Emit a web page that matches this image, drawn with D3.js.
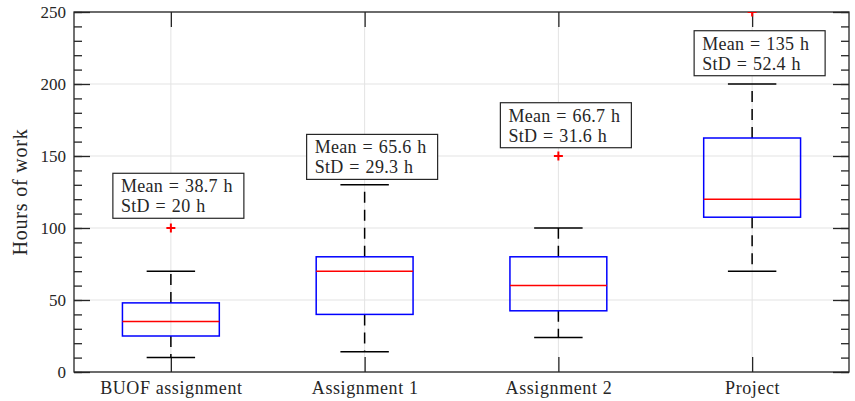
<!DOCTYPE html>
<html>
<head>
<meta charset="utf-8">
<script src="https://cdn.jsdelivr.net/npm/d3@7"></script>
<style>
  body { margin: 0; background: #fff; }
</style>
</head>
<body>
<div id="chart"></div>
<script>
// Data
var categories = ['BUOF assignment', 'Assignment 1', 'Assignment 2', 'Project']
var lowerWhisker = [10, 14, 24, 70]
var q1 = [25, 40, 42.5, 107.5]
var medians = [35, 70, 60, 120]
var q3 = [48, 80, 80, 162.5]
var upperWhisker = [70, 130, 100, 200]
var outliers = [[100], [], [150], [250]]
var means = [38.7, 65.6, 66.7, 135]
var stds = [20, 29.3, 31.6, 52.4]
// top of each text box, in hours
var noteTop = [138, 165, 187, 237]
var yTicks = [0, 50, 100, 150, 200, 250]

var serif = '"Liberation Serif", "Times New Roman", serif'
var ink = '#262626'

var width = 855
var height = 401
var margin = { top: 12, right: 6, bottom: 29, left: 74 }
var innerW = width - margin.left - margin.right
var innerH = height - margin.top - margin.bottom

var svg = d3
  .select('#chart')
  .append('svg')
  .attr('width', width)
  .attr('height', height)

var g = svg
  .append('g')
  .attr('transform', 'translate(' + margin.left + ',' + margin.top + ')')

var x = d3
  .scalePoint()
  .domain(categories)
  .range([0, innerW])
  .padding(0.5)

var y = d3
  .scaleLinear()
  .domain([0, 250])
  .range([innerH, 0])

var step = x.step()
var boxW = step * 0.5
var capW = step * 0.25

// grid
g.append('g')
  .selectAll('line')
  .data(yTicks)
  .enter()
  .append('line')
  .attr('x1', 0)
  .attr('x2', innerW)
  .attr('y1', function(d) { return y(d) })
  .attr('y2', function(d) { return y(d) })
  .style('stroke', '#e3e3e3')
  .style('stroke-width', 1)

g.append('g')
  .selectAll('line')
  .data(categories)
  .enter()
  .append('line')
  .attr('x1', function(d) { return x(d) })
  .attr('x2', function(d) { return x(d) })
  .attr('y1', 0)
  .attr('y2', innerH)
  .style('stroke', '#e3e3e3')
  .style('stroke-width', 1)

// axes (ticks pointing inward, mirrored on the far sides)
var minorTicks = d3.range(0, 251, 10)
function styleAxis(sel) {
  sel.select('.domain').remove()
  sel.selectAll('line').style('stroke', ink).style('stroke-width', 1.3)
  sel.selectAll('text')
    .style('font-family', serif)
    .style('font-size', '17px')
    .style('fill', ink)
}

g.append('g')
  .call(d3.axisLeft(y).tickValues(minorTicks).tickSize(-8).tickFormat(''))
  .call(styleAxis)
g.append('g')
  .call(d3.axisLeft(y).tickValues(yTicks).tickSize(-16).tickPadding(8))
  .call(styleAxis)
g.append('g')
  .attr('transform', 'translate(' + innerW + ',0)')
  .call(d3.axisRight(y).tickValues(minorTicks).tickSize(-8).tickFormat(''))
  .call(styleAxis)
g.append('g')
  .attr('transform', 'translate(' + innerW + ',0)')
  .call(d3.axisRight(y).tickValues(yTicks).tickSize(-16).tickFormat(''))
  .call(styleAxis)
g.append('g')
  .attr('transform', 'translate(0,' + innerH + ')')
  .call(d3.axisBottom(x).tickSize(-15).tickPadding(9))
  .call(styleAxis)
  .selectAll('text')
  .style('font-size', '18px')
  .style('letter-spacing', '0.6px')
g.append('g')
  .call(d3.axisTop(x).tickSize(-15).tickFormat(''))
  .call(styleAxis)

// plot frame
g.append('rect')
  .attr('width', innerW)
  .attr('height', innerH)
  .style('fill', 'none')
  .style('stroke', ink)
  .style('stroke-width', 1.3)

// y label
svg
  .append('text')
  .attr('transform', 'translate(27,' + (margin.top + innerH / 2) + ') rotate(-90)')
  .attr('text-anchor', 'middle')
  .style('font-family', serif)
  .style('fill', ink)
  .style('font-size', '20px')
  .style('letter-spacing', '0.8px')
  .text('Hours of work')

g.append('clipPath')
  .attr('id', 'plot-clip')
  .append('rect')
  .attr('width', innerW)
  .attr('height', innerH)

var boxes = g
  .append('g')
  .attr('clip-path', 'url(#plot-clip)')
  .selectAll('.box')
  .data(categories)
  .enter()
  .append('g')
  .attr('class', 'box')

// whiskers, dashed from the box outwards
boxes
  .append('line')
  .attr('x1', function(d) { return x(d) })
  .attr('x2', function(d) { return x(d) })
  .attr('y1', function(d, i) { return y(q3[i]) })
  .attr('y2', function(d, i) { return y(upperWhisker[i]) })
  .style('stroke', '#000')
  .style('stroke-width', 1.5)
  .style('stroke-dasharray', '11,7')
boxes
  .append('line')
  .attr('x1', function(d) { return x(d) })
  .attr('x2', function(d) { return x(d) })
  .attr('y1', function(d, i) { return y(q1[i]) })
  .attr('y2', function(d, i) { return y(lowerWhisker[i]) })
  .style('stroke', '#000')
  .style('stroke-width', 1.5)
  .style('stroke-dasharray', '11,7')

// caps
;[upperWhisker, lowerWhisker].forEach(function(arr) {
  boxes
    .append('line')
    .attr('x1', function(d) { return x(d) - capW / 2 })
    .attr('x2', function(d) { return x(d) + capW / 2 })
    .attr('y1', function(d, i) { return y(arr[i]) })
    .attr('y2', function(d, i) { return y(arr[i]) })
    .style('stroke', '#000')
    .style('stroke-width', 1.5)
})

// box
boxes
  .append('rect')
  .attr('x', function(d) { return x(d) - boxW / 2 })
  .attr('width', boxW)
  .attr('y', function(d, i) { return y(q3[i]) })
  .attr('height', function(d, i) { return y(q1[i]) - y(q3[i]) })
  .style('fill', 'none')
  .style('stroke', '#0000ff')
  .style('stroke-width', 1.5)

// median
boxes
  .append('line')
  .attr('x1', function(d) { return x(d) - boxW / 2 })
  .attr('x2', function(d) { return x(d) + boxW / 2 })
  .attr('y1', function(d, i) { return y(medians[i]) })
  .attr('y2', function(d, i) { return y(medians[i]) })
  .style('stroke', '#ff0000')
  .style('stroke-width', 1.5)

// outliers as red plus signs
boxes
  .selectAll('.outlier')
  .data(function(d, i) {
    return outliers[i].map(function(v) { return { cat: d, value: v } })
  })
  .enter()
  .append('path')
  .attr('class', 'outlier')
  .attr('d', function(d) {
    var cx = x(d.cat)
    var cy = y(d.value)
    return 'M' + (cx - 4.5) + ',' + cy + 'H' + (cx + 4.5) +
      'M' + cx + ',' + (cy - 4.5) + 'V' + (cy + 4.5)
  })
  .style('stroke', '#ff0000')
  .style('stroke-width', 2)

// text boxes with mean and standard deviation
var notes = g
  .append('g')
  .selectAll('.note')
  .data(categories)
  .enter()
  .append('g')
  .attr('class', 'note')
  .attr('transform', function(d, i) {
    return 'translate(' + (x(d) - 58) + ',' + y(noteTop[i]) + ')'
  })

notes
  .append('rect')
  .attr('width', 131)
  .attr('height', 45)
  .style('fill', '#fff')
  .style('stroke', ink)
  .style('stroke-width', 1.2)

notes
  .append('text')
  .attr('x', 8)
  .attr('y', 19)
  .style('font-family', serif)
  .style('fill', ink)
  .style('font-size', '18px')
  .style('letter-spacing', '0.3px')
  .style('word-spacing', '1px')
  .text(function(d, i) { return 'Mean = ' + means[i] + ' h' })

notes
  .append('text')
  .attr('x', 8)
  .attr('y', 39)
  .style('font-family', serif)
  .style('fill', ink)
  .style('font-size', '18px')
  .style('letter-spacing', '0.3px')
  .style('word-spacing', '1px')
  .text(function(d, i) { return 'StD = ' + stds[i] + ' h' })
</script>
</body>
</html>
